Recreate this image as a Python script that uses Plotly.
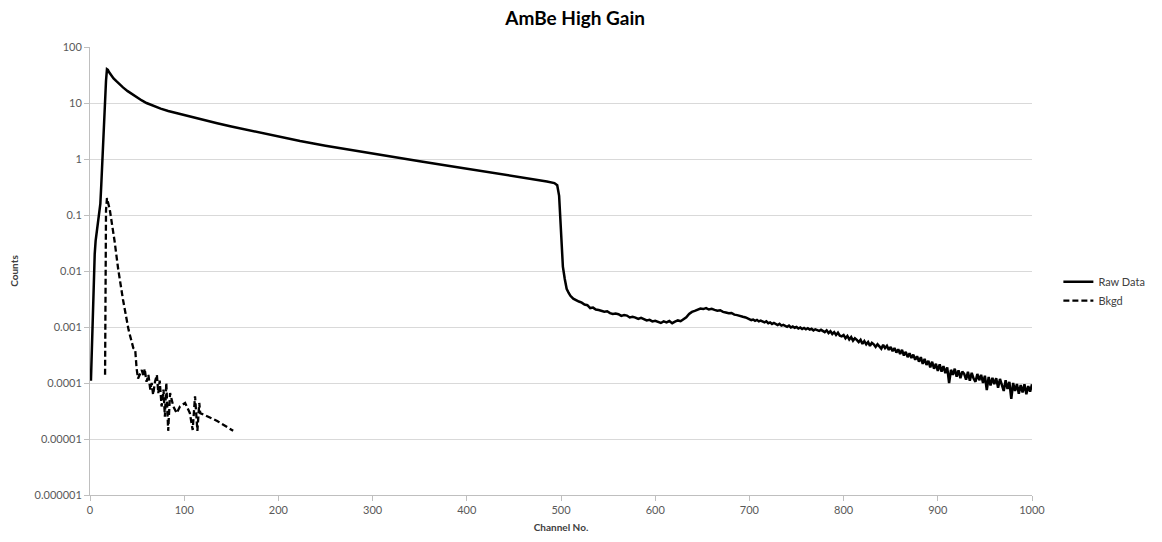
import plotly.graph_objects as go

# ---- Raw Data: rising edge, Compton-like continuum and edge (channel, counts) ----
raw_channels_main = [1, 2, 3, 4, 5, 6, 7, 8, 9, 10, 11, 12, 13, 14, 15, 16, 17, 18,
                     19, 20, 22, 25, 28, 30, 35, 40, 45, 50, 55, 60, 65, 70, 75, 83,
                     90, 100, 110, 122, 135, 150, 165, 180, 200, 223, 250, 280, 310,
                     350, 380, 414, 440, 467, 485, 493, 496, 498, 499, 500, 501,
                     502, 504, 506, 508, 510]
raw_counts_main = [1.1e-4, 4e-4, 1.6e-3, 0.008, 0.02, 0.035, 0.05, 0.068, 0.085,
                   0.11, 0.16, 0.35, 0.9, 2.3, 5.5, 12, 25, 40,
                   39, 36, 32, 27.5, 24.5, 22.5, 19, 16.3, 14.2, 12.6, 11.1, 10.0,
                   9.2, 8.5, 7.95, 7.2, 6.7, 6.1, 5.55, 4.9, 4.35, 3.8, 3.35, 2.95,
                   2.51, 2.09, 1.72, 1.41, 1.175, 0.91, 0.76, 0.62, 0.525, 0.447,
                   0.398, 0.372, 0.34, 0.22, 0.10, 0.045, 0.025, 0.012, 0.0072,
                   0.0048, 0.0041, 0.0036]

# ---- Raw Data: noisy tail ----
raw_channels_tail = list(range(513, 700, 3)) + list(range(700, 1001, 2))
raw_counts_tail = [
    # 513 - 699, every 3rd channel
    0.0032, 0.00298, 0.00285, 0.00272, 0.00252, 0.00245, 0.00218, 0.00222, 0.00205, 0.00201,
    0.00196, 0.00188, 0.00191, 0.00177, 0.00171, 0.00174, 0.00169, 0.00158, 0.00163, 0.00160,
    0.00148, 0.00152, 0.00147, 0.00139, 0.00146, 0.00136, 0.00131, 0.00134, 0.00126, 0.00129,
    0.00124, 0.00118, 0.00126, 0.00121, 0.00128, 0.00117, 0.00125, 0.00131, 0.00127, 0.00138,
    0.00149, 0.00171, 0.00186, 0.00194, 0.00206, 0.00213, 0.00209, 0.00218, 0.00205, 0.00211,
    0.00202, 0.00195, 0.00199, 0.00186, 0.00181, 0.00176, 0.00178, 0.00166, 0.00163, 0.00156,
    0.00152, 0.00148, 0.00141,
    # 700 - 1000, every 2nd channel
    0.00140, 0.00133, 0.00136, 0.00129, 0.00134, 0.00126, 0.00130, 0.00124, 0.00121, 0.00126,
    0.00117, 0.00121, 0.00113, 0.00118, 0.00111, 0.00108, 0.00114, 0.00106, 0.00109, 0.00103,
    0.00101, 0.00106, 0.00098, 0.00102, 0.00097, 0.00100, 0.00094, 0.00098, 0.00092, 0.00096,
    0.00091, 0.00095, 0.00090, 0.00093, 0.00087, 0.00091, 0.00088, 0.00085, 0.00089, 0.00084,
    0.00081, 0.00087, 0.00078, 0.00084, 0.00075, 0.00081, 0.00072, 0.00079, 0.00070, 0.00068,
    0.00072, 0.00063, 0.00069, 0.00060, 0.00066, 0.00057, 0.00063, 0.00059, 0.00054, 0.00059,
    0.00050, 0.00056, 0.00049, 0.00054, 0.00046, 0.00052, 0.00049, 0.00044, 0.00049, 0.00045,
    0.00041, 0.00048, 0.00042, 0.00046, 0.00039, 0.00044, 0.00037, 0.00042, 0.00035, 0.00040,
    0.00033, 0.00039, 0.00031, 0.00036, 0.00029, 0.00034, 0.00028, 0.00032, 0.00026, 0.00030,
    0.00024, 0.00029, 0.00022, 0.00027, 0.00021, 0.00025, 0.00019, 0.00024, 0.00018, 0.00022,
    0.000165, 0.000215, 0.000160, 0.000200, 0.000150, 0.000190, 0.000100, 0.000172, 0.000140, 0.000180,
    0.000130, 0.000168, 0.000122, 0.000160, 0.000145, 0.000115, 0.000158, 0.000110, 0.000152, 0.000120,
    0.000105, 0.000145, 0.000112, 0.000140, 0.000100, 0.000135, 0.000075, 0.000128, 0.000090, 0.000124,
    0.000095, 0.000122, 0.000082, 0.000118, 0.000088, 0.000072, 0.000112, 0.000078, 0.000105, 0.000052,
    0.000100, 0.000072, 0.000096, 0.000064, 0.000092, 0.000068, 0.000095, 0.000063, 0.000088, 0.000070,
    0.000095,
]

raw_channels = raw_channels_main + raw_channels_tail
raw_counts = raw_counts_main + raw_counts_tail

# ---- Background ----
bkgd_channels = [16, 17, 18, 21, 26, 30, 35, 41, 46, 48, 49.5, 51, 55, 57, 58, 60, 62,
                 64, 65.5, 67, 69, 71, 72.5, 74, 76, 78, 79.5, 81, 82, 83, 85, 87,
                 88.5, 92, 95.5, 101, 106, 109, 111.5, 114, 116, 117, 135, 152]
bkgd_counts = [1.4e-4, 0.12, 0.2, 0.125, 0.035, 0.0106, 0.0031, 8.8e-4, 4.2e-4, 3.9e-4,
               1.8e-4, 1.2e-4, 1.7e-4, 1.3e-4, 1.8e-4, 1.05e-4, 1.4e-4, 7.6e-5, 1.0e-4,
               6.2e-5, 1.05e-4, 1.4e-4, 6.6e-5, 1.1e-4, 3.8e-5, 7.6e-5, 2.5e-5, 1.0e-4,
               3.8e-5, 1.4e-5, 6.6e-5, 5.0e-5, 3.8e-5, 2.9e-5, 3.8e-5, 4.4e-5, 2.9e-5,
               1.45e-5, 5.8e-5, 1.4e-5, 4.4e-5, 2.9e-5, 2.1e-5, 1.4e-5]

y_tick_vals = [100, 10, 1, 0.1, 0.01, 0.001, 0.0001, 0.00001, 0.000001]
y_tick_text = ["100", "10", "1", "0.1", "0.01", "0.001", "0.0001", "0.00001", "0.000001"]
x_tick_vals = [0, 100, 200, 300, 400, 500, 600, 700, 800, 900, 1000]

FONT = "Lato, 'Open Sans', sans-serif"
TICK_COLOR = "#595959"
GRID = "#d9d9d9"

fig = go.Figure()
fig.add_trace(go.Scatter(
    x=raw_channels, y=raw_counts, mode="lines", name="Raw Data",
    line=dict(color="black", width=2.5),
))
fig.add_trace(go.Scatter(
    x=bkgd_channels, y=bkgd_counts, mode="lines", name="Bkgd",
    line=dict(color="black", width=2.3, dash="6px,3px"),
))

fig.update_layout(
    width=1162, height=542,
    margin=dict(l=90, r=130, t=47, b=47),
    paper_bgcolor="white", plot_bgcolor="white",
    font=dict(family=FONT, color=TICK_COLOR, size=11),
    title=dict(text="<b>AmBe High Gain</b>", x=0.495, xanchor="center",
               y=0.967, yanchor="middle",
               font=dict(family=FONT, size=19, color="black")),
    showlegend=True,
    legend=dict(x=1.028, y=0.455, xanchor="left", yanchor="middle",
                font=dict(family=FONT, size=11, color="#404040"),
                bgcolor="rgba(0,0,0,0)", tracegroupgap=4, itemwidth=30),
    xaxis=dict(
        range=[0, 1000], tickvals=x_tick_vals, showgrid=False, zeroline=False,
        showline=True, linecolor="#bfbfbf", linewidth=1,
        ticks="outside", ticklen=5, tickcolor="#bfbfbf",
        tickfont=dict(family=FONT, size=11, color=TICK_COLOR),
        title=dict(text="<b>Channel No.</b>", standoff=8,
                   font=dict(family=FONT, size=10, color="#404040")),
    ),
    yaxis=dict(
        type="log", range=[-6, 2], tickvals=y_tick_vals, ticktext=y_tick_text,
        showgrid=True, gridcolor=GRID, gridwidth=1, zeroline=False,
        showline=True, linecolor="#bfbfbf", linewidth=1,
        ticks="outside", ticklen=5, tickcolor="#bfbfbf",
        tickfont=dict(family=FONT, size=11, color=TICK_COLOR),
        title=dict(text="<b>Counts</b>", standoff=14,
                   font=dict(family=FONT, size=10, color="#404040")),
    ),
)

fig.write_html("out.html")
